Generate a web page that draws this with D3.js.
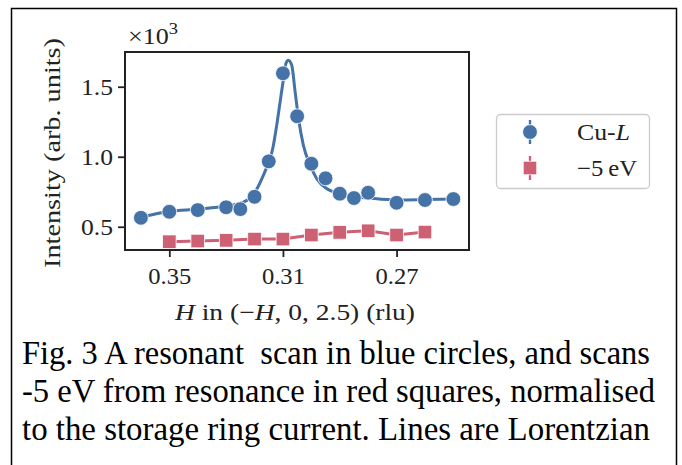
<!DOCTYPE html>
<html>
<head>
<meta charset="utf-8">
<script src="https://cdn.jsdelivr.net/npm/d3@7"></script>
<style>
  body { margin: 0; background: #fff; }
  svg text { white-space: pre; }
</style>
</head>
<body>
<div id="chart"></div>
<script>
// Cu-L resonant scan (blue circles)
const blueH = [0.360, 0.350, 0.340, 0.330, 0.325, 0.320, 0.315, 0.310, 0.305, 0.300, 0.295, 0.290, 0.285, 0.280, 0.270, 0.260, 0.250];
const blueI = [564, 607, 619, 639, 626, 714, 967, 1596, 1289, 950, 846, 736, 705, 743, 671, 691, 698];

// -5 eV scan (red squares)
const redH = [0.350, 0.340, 0.330, 0.320, 0.310, 0.300, 0.290, 0.280, 0.270, 0.260];
const redI = [393, 398, 403, 412, 412, 441, 460, 471, 441, 462];

// Lorentzian fit line
const fitH = [0.360, 0.350, 0.340, 0.330, 0.3239, 0.3198, 0.3169, 0.3148, 0.3136, 0.3122, 0.3110, 0.3098, 0.3089, 0.3081, 0.3069, 0.3057, 0.3045, 0.3028, 0.3004, 0.2981, 0.2945, 0.2898, 0.2863, 0.2797, 0.2699, 0.2596, 0.2494];
const fitI = [569, 609, 626, 648, 676, 748, 867, 974, 1057, 1224, 1391, 1557, 1669, 1689, 1653, 1462, 1271, 1081, 939, 843, 771, 736, 719, 705, 691, 694, 698];

const xTicks = [0.35, 0.31, 0.27];
const yTicks = [500, 1000, 1500];

const blue = "#4572a7";
const red = "#cd6073";
const font = "'Liberation Serif', 'DejaVu Serif', serif";

const W = 682, H = 465;
const svg = d3.select("#chart").append("svg")
  .attr("width", W).attr("height", H)
  .style("font-family", font);

svg.append("rect").attr("width", W).attr("height", H).attr("fill", "#fff");

// outer frame
svg.append("path")
  .attr("d", "M11.5,470 V8.5 H676.5 V470")
  .attr("fill", "none").attr("stroke", "#000").attr("stroke-width", 1.5);

const plot = { left: 125, right: 469, top: 52, bottom: 250 };

const x = d3.scaleLinear().domain([0.3656, 0.2445]).range([plot.left, plot.right]);
const y = d3.scaleLinear().domain([334, 1748]).range([plot.bottom, plot.top]);

// stretch text to the width it has in the reference (CM font is wider)
function fit(sel, len) {
  sel.attr("textLength", len).attr("lengthAdjust", "spacingAndGlyphs");
}

// axes
const xAxis = svg.append("g")
  .attr("transform", "translate(0," + plot.bottom + ")")
  .call(d3.axisBottom(x).tickValues(xTicks).tickFormat(d3.format(".2f")).tickSize(7).tickPadding(5));
const yAxis = svg.append("g")
  .attr("transform", "translate(" + plot.left + ",0)")
  .call(d3.axisLeft(y).tickValues(yTicks).tickFormat(d => (d / 1000).toFixed(1)).tickSize(7).tickPadding(5));

[xAxis, yAxis].forEach(g => {
  g.select(".domain").remove();
  g.selectAll(".tick line").attr("stroke", "#222").attr("stroke-width", 1.8);
  g.selectAll(".tick text").attr("fill", "#222").style("font-family", font).style("font-size", "23px");
});
xAxis.selectAll(".tick text").attr("dy", "0.95em").call(fit, 43);
yAxis.selectAll(".tick text").attr("dy", "0.35em").call(fit, 32);

// fit line
svg.append("path")
  .datum(fitH.map((h, i) => [h, fitI[i]]))
  .attr("fill", "none").attr("stroke", blue).attr("stroke-width", 3)
  .attr("stroke-linejoin", "round")
  .attr("d", d3.line().x(d => x(d[0])).y(d => y(d[1])).curve(d3.curveMonotoneX));

// blue circles
svg.append("g").selectAll("circle")
  .data(blueH.map((h, i) => [h, blueI[i]]))
  .join("circle")
  .attr("cx", d => x(d[0])).attr("cy", d => y(d[1]))
  .attr("r", 7.4).attr("fill", blue).attr("stroke", "#fff").attr("stroke-width", 0.8);

// red line + squares
const redData = redH.map((h, i) => [h, redI[i]]);
svg.append("path")
  .datum(redData)
  .attr("fill", "none").attr("stroke", red).attr("stroke-width", 3)
  .attr("d", d3.line().x(d => x(d[0])).y(d => y(d[1])));
svg.append("g").selectAll("rect")
  .data(redData)
  .join("rect")
  .attr("x", d => x(d[0]) - 6.8).attr("y", d => y(d[1]) - 6.8)
  .attr("width", 13.6).attr("height", 13.6)
  .attr("fill", red).attr("stroke", "#fff").attr("stroke-width", 0.8);

// spines
svg.append("rect")
  .attr("x", plot.left).attr("y", plot.top)
  .attr("width", plot.right - plot.left).attr("height", plot.bottom - plot.top)
  .attr("fill", "none").attr("stroke", "#222").attr("stroke-width", 2);

// x10^3 offset label
const off = svg.append("text").attr("x", 128).attr("y", 44)
  .attr("fill", "#222").style("font-size", "24px");
off.append("tspan").text("\u00d710");
off.append("tspan").attr("dy", -10).style("font-size", "17px").text("3");
fit(off, 50);

// axis labels
const xl = svg.append("text")
  .attr("x", 295).attr("y", 320)
  .attr("text-anchor", "middle").attr("fill", "#222").style("font-size", "23px");
xl.append("tspan").style("font-style", "italic").text("H");
xl.append("tspan").text(" in (\u2212");
xl.append("tspan").style("font-style", "italic").text("H");
xl.append("tspan").text(", 0, 2.5) (rlu)");
fit(xl, 240);

const yl = svg.append("text")
  .attr("transform", "translate(60,153) rotate(-90)")
  .attr("text-anchor", "middle").attr("fill", "#222").style("font-size", "23px")
  .text("Intensity (arb. units)");
fit(yl, 230);

// legend
const lg = svg.append("g");
lg.append("rect")
  .attr("x", 496.5).attr("y", 114.5).attr("width", 153).attr("height", 74)
  .attr("rx", 4).attr("fill", "#fff").attr("stroke", "#ccc").attr("stroke-width", 1.3);

const legendItems = [
  { label: "Cu-", italic: "L", color: blue, shape: "circle", y: 132, len: 53 },
  { label: "\u22125\u2009eV", italic: "", color: red, shape: "square", y: 168, len: 60 }
];
legendItems.forEach(it => {
  lg.append("line")
    .attr("x1", 530).attr("x2", 530).attr("y1", it.y - 12).attr("y2", it.y + 12)
    .attr("stroke", it.color).attr("stroke-width", 2.4);
  if (it.shape === "circle") {
    lg.append("circle").attr("cx", 530).attr("cy", it.y).attr("r", 7.4)
      .attr("fill", it.color).attr("stroke", "#fff").attr("stroke-width", 0.8);
  } else {
    lg.append("rect").attr("x", 530 - 6.8).attr("y", it.y - 6.8).attr("width", 13.6).attr("height", 13.6)
      .attr("fill", it.color).attr("stroke", "#fff").attr("stroke-width", 0.8);
  }
  const t = lg.append("text").attr("x", 577).attr("y", it.y + 8)
    .attr("fill", "#222").style("font-size", "23px");
  t.append("tspan").text(it.label);
  if (it.italic) t.append("tspan").style("font-style", "italic").text(it.italic);
  fit(t, it.len);
});

// caption
const caption = [
  "Fig. 3 A resonant  scan in blue circles, and scans",
  "-5 eV from resonance in red squares, normalised",
  "to the storage ring current. Lines are Lorentzian"
];
const capLen = [628, 633, 628];
svg.append("g").selectAll("text")
  .data(caption)
  .join("text")
  .attr("x", 22).attr("y", (d, i) => 364 + i * 38)
  .attr("fill", "#000")
  .style("font-family", "'Liberation Serif', 'Times New Roman', serif")
  .style("font-size", "33px")
  .attr("textLength", (d, i) => capLen[i]).attr("lengthAdjust", "spacingAndGlyphs")
  .text(d => d);
</script>
</body>
</html>
